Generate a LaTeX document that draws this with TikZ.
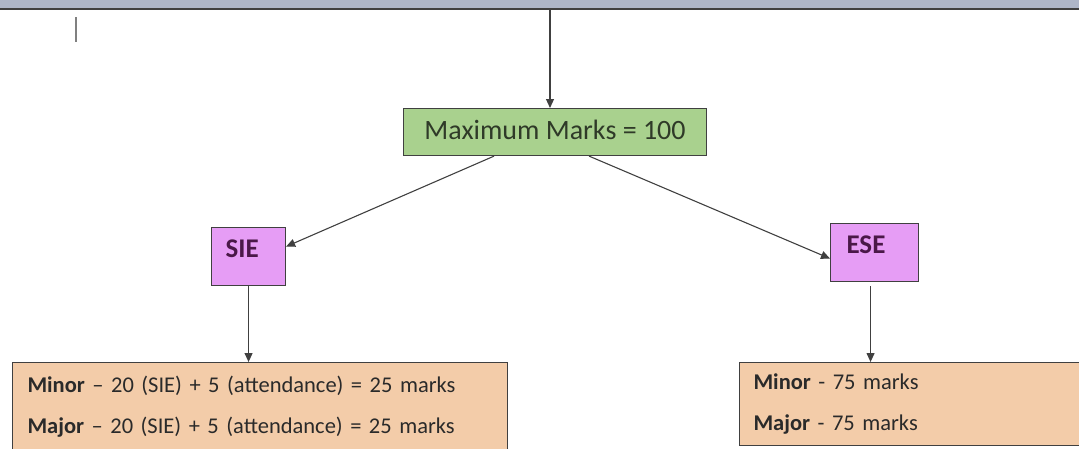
\documentclass[tikz,border=0pt]{standalone}
\usepackage{fontspec}
\setmainfont{Carlito}
\usetikzlibrary{arrows.meta,calc}
\definecolor{edge}{HTML}{404040}
\definecolor{greenbox}{HTML}{A9D18E}
\definecolor{violetbox}{HTML}{E69DF5}
\definecolor{peachbox}{HTML}{F3CCA9}
\definecolor{bartop}{HTML}{AEB6C8}
\definecolor{purpletext}{HTML}{4A1848}
\definecolor{greentext}{HTML}{2F3A28}
\definecolor{bodytext}{HTML}{2A2A2A}
\tikzset{
  box/.style={draw=edge, line width=1.1pt, rectangle, inner sep=0pt},
  conn/.style={draw=edge, line width=1.1pt, -{Triangle[length=9pt,width=8pt]}},
  tag/.style={box, fill=violetbox, text height=30pt, text depth=28pt, align=left,
      text=purpletext, font=\fontsize{27}{30}\selectfont\bfseries, anchor=north west},
  listbox/.style={box, fill=peachbox, align=left, text=bodytext,
      font=\fontsize{22.5}{41}\selectfont, anchor=north west},
}
\begin{document}
\begin{tikzpicture}[x=1pt,y=-1pt]
\useasboundingbox (0,0) rectangle (1079,448);
\clip (0,0) rectangle (1079,448);
% window bar
\fill[bartop] (0,0) rectangle (1079,8);
\draw[edge, line width=2pt] (0,9) -- (1079,9);
\draw[gray, line width=1.3pt] (76,17) -- (76,42);
% boxes
\node[box, fill=greenbox, minimum width=303pt, text height=31pt, text depth=16pt,
      text=greentext, font=\fontsize{28}{30}\selectfont, anchor=north west] (mx) at (403,108) {Maximum Marks = 100};
\node[tag, inner xsep=14pt, text width=46pt, text height=30pt, text depth=28pt] (sie) at (211,227) {SIE};
\node[tag, inner xsep=16pt, text width=56pt, text height=30pt, text depth=28pt] (ese) at (830,223) {ESE};
\node[listbox, minimum width=495pt, minimum height=88pt, inner xsep=15pt, text width=465pt] (lb) at (12,362)
  {\textbf{Minor} – 20 (SIE) + 5 (attendance) = 25 marks\\
   \textbf{Major} – 20 (SIE) + 5 (attendance) = 25 marks};
\node[listbox, minimum width=360pt, minimum height=83pt, inner xsep=14pt, text width=332pt] (rb) at (739,362)
  {\textbf{Minor} - 75 marks\\
   \textbf{Major} - 75 marks};
% connectors
\coordinate (top) at (550,9);
\draw[conn] (top) -- (top |- mx.north);
\draw[conn] ([xshift=-61pt]mx.south) -- ([yshift=10pt]sie.east);
\draw[conn] ([xshift=34pt]mx.south) -- ([yshift=-6pt]ese.west);
\draw[conn] (sie.south) -- (sie.south |- lb.north);
\draw[conn] ([xshift=-4pt,yshift=-4pt]ese.south) -- ([xshift=-4pt]ese.south |- rb.north);
\end{tikzpicture}
\end{document}
